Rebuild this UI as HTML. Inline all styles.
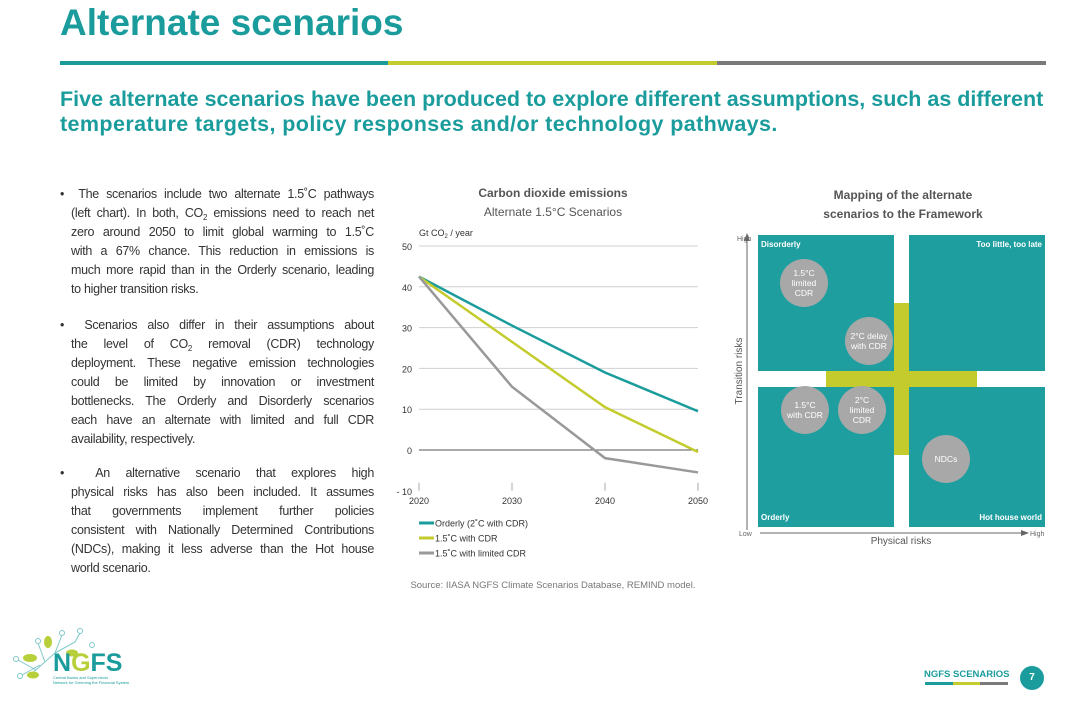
<!DOCTYPE html>
<html><head><meta charset="utf-8">
<style>
body{margin:0;width:1065px;height:701px;background:#fff;position:relative;overflow:hidden;font-family:"Liberation Sans",sans-serif;}
.abs{position:absolute}
.t{color:#1b9c9c}
.bl{font-size:12.5px;letter-spacing:-0.3px;color:#333;line-height:19px;width:314px}
.bl div{text-align:justify;text-align-last:justify;white-space:nowrap;padding-left:11px;height:19px}
.bl div.f{padding-left:0}
.bl div.l{text-align-last:left}
.sb{font-size:8px;position:relative;top:3px;line-height:0}
.q{position:absolute;background:#1f9ea0}
.ql{position:absolute;color:#fff;font-size:8px;font-weight:bold}
.c{position:absolute;width:48px;height:48px;border-radius:50%;background:#a8a8a8;color:#fff;font-size:8.5px;display:flex;align-items:center;justify-content:center;text-align:center;line-height:10px}
</style></head><body>
<div class="abs t" style="left:60px;top:2px;font-size:37px;font-weight:bold">Alternate scenarios</div>
<div class="abs" style="left:60px;top:61px;width:328px;height:4px;background:#1b9c9c"></div>
<div class="abs" style="left:388px;top:61px;width:329px;height:4px;background:#c3cc2c"></div>
<div class="abs" style="left:717px;top:61px;width:329px;height:4px;background:#7a7a7a"></div>
<div class="abs t" style="left:60px;top:87px;font-size:21.5px;font-weight:bold;line-height:25px;white-space:nowrap">Five alternate scenarios have been produced to explore different assumptions, such as different<br><span style="letter-spacing:0.4px">temperature targets, policy responses and/or technology pathways.</span></div>

<div class="abs bl" style="left:60px;top:185px">
<div class="f">•&nbsp;&nbsp;The scenarios include two alternate 1.5˚C pathways</div>
<div>(left chart). In both, CO<span class="sb">2</span> emissions need to reach net</div>
<div>zero around 2050 to limit global warming to 1.5˚C</div>
<div>with a 67% chance. This reduction in emissions is</div>
<div>much more rapid than in the Orderly scenario, leading</div>
<div class="l">to higher transition risks.</div></div>
<div class="abs bl" style="left:60px;top:316px">
<div class="f">•&nbsp;&nbsp;Scenarios also differ in their assumptions about</div>
<div>the level of CO<span class="sb">2</span> removal (CDR) technology</div>
<div>deployment. These negative emission technologies</div>
<div>could be limited by innovation or investment</div>
<div>bottlenecks. The Orderly and Disorderly scenarios</div>
<div>each have an alternate with limited and full CDR</div>
<div class="l">availability, respectively.</div></div>
<div class="abs bl" style="left:60px;top:464px">
<div class="f">•&nbsp;&nbsp;An alternative scenario that explores high</div>
<div>physical risks has also been included. It assumes</div>
<div>that governments implement further policies</div>
<div>consistent with Nationally Determined Contributions</div>
<div>(NDCs), making it less adverse than the Hot house</div>
<div class="l">world scenario.</div></div>

<div class="abs" style="left:400px;top:186px;width:306px;text-align:center;font-size:12px;font-weight:bold;color:#555">Carbon dioxide emissions</div>
<div class="abs" style="left:400px;top:205px;width:306px;text-align:center;font-size:12px;color:#555">Alternate 1.5°C Scenarios</div>
<svg class="abs" style="left:0;top:0" width="1065" height="701" id="chart"></svg>
<div class="abs" style="left:400px;top:580px;width:306px;text-align:center;font-size:9.5px;color:#777">Source: IIASA NGFS Climate Scenarios Database, REMIND model.</div>

<div class="abs" style="left:760px;top:186px;width:286px;text-align:center;font-size:12px;font-weight:bold;color:#555;line-height:19px">Mapping of the alternate<br>scenarios to the Framework</div>
<div class="q" style="left:758px;top:235px;width:136px;height:136px"></div>
<div class="q" style="left:909px;top:235px;width:136px;height:136px"></div>
<div class="q" style="left:758px;top:387px;width:136px;height:140px"></div>
<div class="q" style="left:909px;top:387px;width:136px;height:140px"></div>
<div class="abs" style="left:894px;top:303px;width:15px;height:152px;background:#c3cc2c"></div>
<div class="abs" style="left:826px;top:371px;width:151px;height:16px;background:#c3cc2c"></div>
<div class="ql" style="left:761px;top:240px">Disorderly</div>
<div class="ql" style="left:909px;top:240px;width:133px;text-align:right">Too little, too late</div>
<div class="ql" style="left:761px;top:513px">Orderly</div>
<div class="ql" style="left:909px;top:513px;width:133px;text-align:right">Hot house world</div>
<div class="c" style="left:780px;top:259px">1.5°C<br>limited<br>CDR</div>
<div class="c" style="left:845px;top:317px">2°C delay<br>with CDR</div>
<div class="c" style="left:781px;top:386px">1.5°C<br>with CDR</div>
<div class="c" style="left:838px;top:386px">2°C<br>limited<br>CDR</div>
<div class="c" style="left:922px;top:435px">NDCs</div>
<svg class="abs" style="left:0;top:0" width="1065" height="701">
<line x1="747" y1="530" x2="747" y2="240" stroke="#666" stroke-width="1"/>
<polygon points="744,241 750,241 747,233" fill="#666"/>
<line x1="760" y1="533" x2="1022" y2="533" stroke="#666" stroke-width="1"/>
<polygon points="1021,530 1021,536 1029,533" fill="#666"/>
<text x="737" y="241" font-size="7" fill="#666" font-family="Liberation Sans">High</text>
<text x="739" y="536" font-size="7" fill="#666" font-family="Liberation Sans">Low</text>
<text x="1030" y="536" font-size="7" fill="#666" font-family="Liberation Sans">High</text>
<text x="901" y="544" font-size="10" fill="#555" text-anchor="middle" font-family="Liberation Sans">Physical risks</text>
<text transform="translate(742,371) rotate(-90)" font-size="10" fill="#555" text-anchor="middle" font-family="Liberation Sans">Transition risks</text>
</svg>

<svg class="abs" style="left:0;top:615px" width="160" height="86">
<g stroke="#7fc8c8" stroke-width="1" fill="none">
<path d="M28 62 L55 38 L62 20 M45 47 L38 28 M55 38 L75 27 L80 18 M36 55 L18 45 M40 50 L22 60"/>
<circle cx="62" cy="18" r="2.5" fill="#fff"/><circle cx="38" cy="26" r="2.5" fill="#fff"/><circle cx="80" cy="16" r="2.5" fill="#fff"/><circle cx="16" cy="44" r="2.5" fill="#fff"/><circle cx="20" cy="61" r="2.5" fill="#fff"/><circle cx="92" cy="30" r="2.5" fill="#fff"/>
</g>
<g fill="#b7cf3a"><ellipse cx="30" cy="43" rx="7" ry="4"/><ellipse cx="48" cy="27" rx="4" ry="6"/><ellipse cx="72" cy="38" rx="6" ry="3.5"/><ellipse cx="33" cy="60" rx="6" ry="3.5"/></g>
<text x="53" y="56" font-size="25" font-weight="bold" fill="#1b9c9c" font-family="Liberation Sans">N<tspan fill="#b7cf3a">G</tspan>FS</text>
<text x="53" y="64" font-size="4" fill="#1b9c9c" font-family="Liberation Sans">Central Banks and Supervisors</text>
<text x="53" y="69" font-size="4" fill="#1b9c9c" font-family="Liberation Sans">Network for Greening the Financial System</text>
</svg>
<div class="abs t" style="left:924px;top:669px;font-size:9.5px;font-weight:bold">NGFS SCENARIOS</div>
<div class="abs" style="left:925px;top:682px;width:28px;height:3px;background:#1b9c9c"></div>
<div class="abs" style="left:953px;top:682px;width:27px;height:3px;background:#c3cc2c"></div>
<div class="abs" style="left:980px;top:682px;width:28px;height:3px;background:#7a7a7a"></div>
<div class="abs" style="left:1020px;top:666px;width:24px;height:24px;border-radius:50%;background:#1b9c9c;color:#fff;font-size:10px;font-weight:bold;text-align:center;line-height:24px">7</div>

<script>
const years=[2020,2030,2040,2050];
const yTicks=[50,40,30,20,10,0,-10];
const orderly=[42.5,30.5,19,9.5];
const cdr15=[42.5,26.5,10.5,-0.5];
const limited15=[42.5,15.5,-2,-5.5];
const svg=document.getElementById('chart');
const NS='http://www.w3.org/2000/svg';
const X=v=>419+(v-2020)/30*279;
const Y=v=>450-v*4.08;
function el(t,a){const e=document.createElementNS(NS,t);for(const k in a)e.setAttribute(k,a[k]);svg.appendChild(e);return e;}
yTicks.forEach(v=>{
  if(v>-10){const g=el('line',{x1:419,x2:698,y1:Y(v),y2:Y(v),stroke:v===0?'#555':'#d0d0d0','stroke-width':1});
  
  }
  const t=el('text',{x:412,y:Y(v)+4,'font-size':9,fill:'#333','text-anchor':'end','font-family':'Liberation Sans'});
  
  
  t.textContent=v===-10?'- 10':String(v);
});
years.forEach(v=>{
  const l=el('line',{x1:X(v),x2:X(v),y1:Y(-10)-8,y2:Y(-10),stroke:'#aaa'});
  
  
  const t=el('text',{x:X(v),y:Y(-10)+13,'font-size':9,fill:'#333','text-anchor':'middle','font-family':'Liberation Sans'});
  
  
  t.textContent=v;
});
const u=el('text',{x:419,y:236,'font-size':9,fill:'#333','font-family':'Liberation Sans'});


u.innerHTML='Gt CO<tspan font-size="6" dy="2">2</tspan><tspan dy="-2"> / year</tspan>';
const series=[[orderly,'#1b9c9c','Orderly (2˚C with CDR)'],[cdr15,'#c3cc2c','1.5˚C with CDR'],[limited15,'#999','1.5˚C with limited CDR']];
series.forEach((s,i)=>{
  const p=el('polyline',{points:s[0].map((v,j)=>X(years[j])+','+Y(v)).join(' '),fill:'none',stroke:s[1],'stroke-width':2.5});
  
  
  const ly=523+i*15;
  const ll=el('line',{x1:419,x2:434,y1:ly,y2:ly,stroke:s[1],'stroke-width':3});
  
  
  const lt=el('text',{x:435,y:ly+3.5,'font-size':9,fill:'#333','font-family':'Liberation Sans'});
  
  
  lt.textContent=s[2];
});
</script>
</body></html>
